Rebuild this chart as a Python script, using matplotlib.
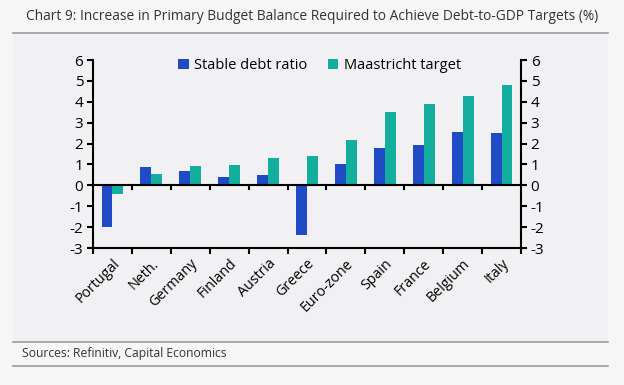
import matplotlib
matplotlib.use("Agg")
import matplotlib.pyplot as plt
import numpy as np
from matplotlib.patches import Rectangle
from matplotlib.lines import Line2D

plt.rcParams['font.family'] = ['Open Sans', 'DejaVu Sans']

categories = ["Portugal", "Neth.", "Germany", "Finland", "Austria", "Greece",
              "Euro-zone", "Spain", "France", "Belgium", "Italy"]
stable_debt = [-2.0, 0.9, 0.67, 0.42, 0.48, -2.36, 1.03, 1.8, 1.93, 2.55, 2.5]
maastricht = [-0.4, 0.53, 0.92, 0.99, 1.3, 1.42, 2.19, 3.53, 3.9, 4.29, 4.8]
yticks = [-3, -2, -1, 0, 1, 2, 3, 4, 5, 6]

blue = "#1f4cc6"
teal = "#14ae9e"

W, H = 624, 385
fig = plt.figure(figsize=(W / 100, H / 100), dpi=100)
fig.patch.set_facecolor("#f6f6f6")

# panel background
fig.add_artist(Rectangle((13 / W, 1 - 342 / H), (608 - 13) / W, (342 - 34) / H,
                         transform=fig.transFigure, facecolor="#f1f1f4",
                         edgecolor="none", zorder=0))
for yy in (33, 342, 366):
    fig.add_artist(Line2D([13 / W, 608 / W], [1 - yy / H, 1 - yy / H],
                          transform=fig.transFigure, color="#9a9aa3", lw=1.2))

fig.text(26 / W, 1 - 17 / H,
         "Chart 9: Increase in Primary Budget Balance Required to Achieve Debt-to-GDP Targets (%)",
         fontsize=9.9, color="#333333", va="center", ha="left")
fig.text(22 / W, 1 - 354 / H, "Sources: Refinitiv, Capital Economics",
         fontsize=8.7, color="#333333", va="center", ha="left")

ax = fig.add_axes([93 / W, 137 / H, (521 - 93) / W, (248 - 60) / H])
ax.set_facecolor("none")
n = len(categories)
x = np.arange(n)
bw = 0.28
ax.bar(x - bw / 2, stable_debt, bw, color=blue, label="Stable debt ratio", zorder=2)
ax.bar(x + bw / 2, maastricht, bw, color=teal, label="Maastricht target", zorder=2)

ax.set_xlim(-0.5, n - 0.5)
ax.set_ylim(-3, 6)
ax.set_yticks(yticks)
ax.set_yticklabels([str(v) for v in yticks])
ax.tick_params(axis="y", which="both", direction="out", length=4, width=1.5,
               labelsize=11, colors="black", left=True, right=True,
               labelleft=True, labelright=True, pad=3)

# x ticks at boundaries, labels at centers
ax.set_xticks(np.arange(-0.5, n, 1.0))
ax.set_xticklabels([])
ax.set_xticks(x, minor=True)
ax.set_xticklabels(categories, minor=True, rotation=45, ha="right",
                   rotation_mode="anchor", fontsize=10.3)
ax.tick_params(axis="x", which="major", direction="out", length=4, width=1.5)
ax.tick_params(axis="x", which="minor", length=0, pad=6)

for s in ("left", "right", "bottom"):
    ax.spines[s].set_linewidth(1.5)
ax.spines["top"].set_visible(False)

ax.axhline(0, color="black", lw=1.5, zorder=3)
for b in np.arange(0.5, n - 0.5, 1.0):
    ax.plot([b, b], [0, -0.18], color="black", lw=1.5, zorder=3, clip_on=False)

ax.legend(loc="upper center", bbox_to_anchor=(0.53, 1.08), ncol=2, frameon=False,
          fontsize=10.5, handlelength=0.7, handleheight=0.7, handletextpad=0.4,
          columnspacing=1.4)

fig.savefig("out.png", dpi=100, facecolor=fig.get_facecolor())
